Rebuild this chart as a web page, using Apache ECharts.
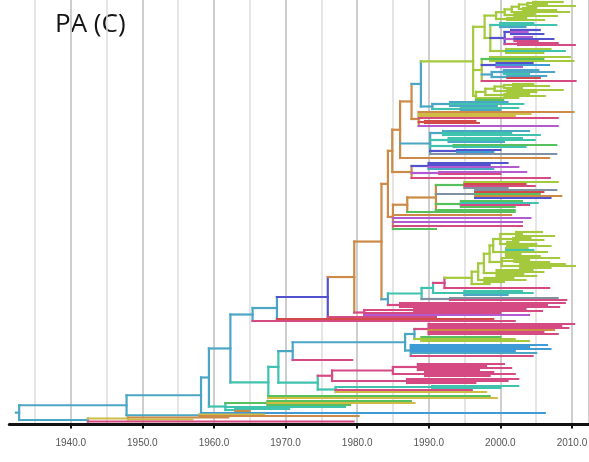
<!DOCTYPE html>
<html>
<head>
<meta charset="utf-8">
<title>PA (C)</title>
<script src="https://cdn.jsdelivr.net/npm/echarts@6.0.0/dist/echarts.min.js"></script>
<style>
  html, body { margin: 0; padding: 0; background: #ffffff; }
  #chart { width: 589px; height: 462px; }
</style>
</head>
<body>
<div id="chart"></div>
<script>
// ---- Time-scaled phylogeny of the PA segment, clade C ----
// Tree notation: a tip is "row:yearC", an internal node is "(children)yearC",
// where year is the node date and C the one-letter lineage colour code.
// Internal node rows are placed at the midpoint of their outer children.

const panelTitle = 'PA (C)';
const axisYears = [1940, 1950, 1960, 1970, 1980, 1990, 2000, 2010];
const rootStemStart = 1932.35;

// lineage colour codes
const lineageCodes  = ['a', 't', 'g', 'G', 'o', 'm', 'p', 'b', 'y', 'r', 's', 'l'];
const lineageColors = ['#4ba6c6', '#3fc2ae', '#a5c93c', '#56c05c', '#cd8a47', '#d64a83',
                       '#b35ad0', '#5252cf', '#d0bb45', '#d34a4a', '#7f90a3', '#3f9bd6'];

// top lime lineage
const limeTop = '((((((2:2008.7g,4:2006.5g)2004.6g,6:2010.4g)2003.8g,(8:2005.0g,10:2007.8g)2003.2g)2002.6g,12:2009.6g)2001.6g,(14:2004.8g,16:2007.9g)2002.0g)2000.6g,(18:2003.6g,20:2006.1g)2001.0g)1999.4g';
const mixedTop = '((23:2004.6t,25:2007.8t,27:2003.5a)2000.0t,((30:2005.5b,32:2003.8p,34:2006.0b)2001.5b,(37:2004.4p,39:2007.4b,41:2005.2m)2002.0p,(43:2008.0m,45:2010.4m)2002.5m)2000.6b,(49:2007.0g,51:2009.0t,53:2006.0g)2000.8g)1998.6g';
const mixedUpper = '((57:2009.7g,59:2006.0G,61:2010.2g)1998.6G,(63:2004.5b,65:2006.8l,67:2003.0p)1999.5b,((70:2005.3a,72:2007.5a,74:2004.0t)2000.5a,(76:2006.4a,78:2005.5r)2001.0a)1998.8a,81:2010.5m)1997.4g';
const limeSecond = '(((((84:2004.6g,86:2006.8g)2001.8g,88:2003.0g)2000.5g,(90:2008.7g,92:2005.0g)2001.0g)1999.2g,(94:2004.0g,96:2006.2g)2000.6g)1997.9g,98:2002.5g,100:2000.4G)1996.6g';
const cyanTop = '((102:2001.0a,104:2003.2t,106:1999.5a)1993.0a,(108:2002.5t,110:2000.0a)1994.5t)1990.5a';
const orangeTips = '(112:2010.2o,114:2004.2y,116:2002.0y,118:2008.0m,(121:1996.5r,123:1997.0r)1989.5r,126:2008.0p)1988.6o';
const turquoiseMid = '((131:2004.0a,133:2001.5t,135:2005.5t)1992.0a,(138:2003.0t,140:2004.8t,142:2000.5a)1992.8t,(145:2007.8G,147:2003.5t)1993.5t,(150:2000.0b,152:1999.0l)1994.0b,154:2007.8s)1990.2a';
const blueMid = '((163:2001.0b,165:1998.5b,167:2002.5p,169:1999.0a)1990.0b,(172:2003.6p,174:2000.0m)1991.5p,178:2006.9m)1987.6o';
const colourfulMid = '((182:2008.0g,184:2003.5r,186:2004.8m,188:2001.0s)1995.0G,(190:2007.8s,192:2006.0r,194:2005.5G,196:2008.5o,198:2007.0b)1996.5s,(201:2003.0G,203:2005.2t,205:2004.0m,207:2002.0G)1994.5G,210:2002.0G)1991.0o';
const orangeLower = '215:2001.5o,218:2004.2p,222:2003.0p,226:2003.0m,229:1991.0G';

// large lime lineage (ladder)
const limeLadder5 = '((232:2005.8g,234:2003.0g,236:2007.5g)2002.2g,(238:2004.2g,240:2006.0g)2001.8g,(242:2002.5g,244:2005.0g,246:2007.0g)2001.0g)2000.0g';
const limeLadder4 = '(248:2003.8g,250:2004.6t,252:2006.5g,254:2002.8g,256:2005.5g)2000.8g';
const limeLadder3 = '(258:2008.2g,(260:2004.0g,262:2006.8g)2002.0g,(264:2009.0g,266:2010.4g,268:2007.0g)2002.8g)2000.2g';
const limeLadder2 = '(270:2004.5g,272:2006.0g,274:2003.2g,276:2005.0g)1999.5g';
const limeLadder1 = '(278:2001.8g,280:2003.5g,282:2000.5g)1997.8g';

const tealLower = '(291:2003.0t,293:2004.5t,295:2001.0a)1995.0t';
const slateLower = '(298:2008.0s,300:2009.2m)1993.0s';
const magentaBandA = '(303:2009.0m,305:2006.5m,307:2008.2m)1986.0m';
const magentaBandB = '((309:2003.5m,311:2005.8m)1988.0m,313:2000.0m,315:2004.0p)1981.0m';

const magentaCluster = '(((324:2010.3m,326:2008.5m,328:2009.5m,330:2007.5o,332:2006.0m,334:2008.0m)1990.0m,(337:2000.0G,339:2002.0g,341:2004.0g)1989.0g)1988.0a,(345:2006.5l,347:2004.0l,349:2007.0l,351:2002.0l,353:2005.0a,356:2004.5m)1987.5a)1986.7a';
const magentaLower = '(((364:2000.5m,366:1998.0m,368:2001.5m,370:1997.0m)1988.5m,(372:1999.0m,374:2002.0m,376:1998.5m)1989.5m)1985.0m,(379:2002.5m,381:2001.0m,383:1996.5m)1987.0m)1976.5m';
const tealBottom = '((386:2002.5t,388:2000.0t)1990.5t,390:1996.0m,392:1998.0y)1977.0t';
const earlyTurquoise = '((401:1987.5G,403:1988.0y,405:1979.0G)1967.5G,407:1978.3t,(409:1970.5t,411:1965.0o)1963.0t)1961.6t';
const earlyCyan = '(414.5:1967.0y,416:1980.2o)1958.0a';
const earliest = '((417.5:1962.0o,419.5:1957.0y)1948.0y,421.5:1979.5m)1942.4a';

// ---- assemble the tree from its clades ----
const upperLime = `((${limeTop},${mixedTop})1997.8g,${mixedUpper},${limeSecond})1996.2g`;
const upperCyan = `(${upperLime},${cyanTop})1988.9a`;
const orangeTop = `((${upperCyan},${orangeTips})1987.6o,${turquoiseMid},158:2006.8o)1986.0o`;
const orangeMid = `(${orangeTop},${blueMid})1984.9o`;
const orangeLow = `((${colourfulMid},212:2002.0G)1987.0o,${orangeLower})1985.0o`;
const limeBig = `(((((${limeLadder5},${limeLadder4})1999.0g,${limeLadder3})1998.5g,${limeLadder2})1997.7g,${limeLadder1})1996.9g,284:1998.5g)1996.0g`;
const tealClade = `((((${limeBig},288:2006.8m)1992.2m,${tealLower})1990.6t,${slateLower})1989.0t,${magentaBandA})1984.3a`;
const orangeClade = `(((${orangeMid},${orangeLow})1984.3o,${tealClade})1983.4o,${magentaBandB})1979.6o`;
const upperBackbone = `(((${orangeClade},317:1991.0m)1975.9b,319:1999.0r)1968.8a,321:2002.0m)1965.4a`;
const lowerTurquoise = `(((${magentaCluster},360:1979.3m)1971.0a,(${magentaLower},${tealBottom})1974.5t)1969.0t,396:1998.5G,398:1999.5y)1967.6t`;
const treeSource = `(((((${upperBackbone},${lowerTurquoise})1962.3a,${earlyTurquoise})1959.3a,413:2006.2l)1958.2a,${earlyCyan})1947.8a,${earliest})1932.8a`;

// ---- parse the notation ----
function parseTree(src) {
  const s = src.replace(/\s+/g, '');
  let i = 0;
  const readNumber = () => {
    const start = i;
    while (i < s.length && /[0-9.]/.test(s[i])) i++;
    return parseFloat(s.slice(start, i));
  };
  function readNode() {
    const node = { children: [] };
    if (s[i] === '(') {
      i++;
      for (;;) {
        node.children.push(readNode());
        const c = s[i++];
        if (c === ')') break;
      }
    } else {
      node.row = readNumber();
      i++; // ':'
    }
    node.date = readNumber();
    node.code = s[i++];
    return node;
  }
  return readNode();
}

function placeRows(node) {
  if (node.children.length) {
    node.children.forEach(placeRows);
    const first = node.children[0].row;
    const last = node.children[node.children.length - 1].row;
    node.row = (first + last) / 2;
  }
}

// branch segments: [x1, row1, x2, row2, colourIndex]
function collectBranches(node, parentDate, out) {
  const ci = lineageCodes.indexOf(node.code);
  out.push([parentDate, node.row, node.date, node.row, ci]);
  if (node.children.length) {
    const rows = node.children.map(c => c.row);
    out.push([node.date, Math.min.apply(null, rows), node.date, Math.max.apply(null, rows), ci]);
    node.children.forEach(c => collectBranches(c, node.date, out));
  }
  return out;
}

const root = parseTree(treeSource);
placeRows(root);
const branches = collectBranches(root, rootStemStart, []);

// ---- chart ----
const chart = echarts.init(document.getElementById('chart'), null, { renderer: 'canvas' });
const xMin = 1930, xMax = 2012.38, axisStart = 1931.42, rowMax = 424.5;

chart.setOption({
  animation: false,
  backgroundColor: '#ffffff',
  graphic: [{
    type: 'text',
    left: 55,
    top: 12,
    style: { text: panelTitle, font: '26px "Open Sans"', fill: '#141414' }
  }],
  grid: [
    { left: -0.9, right: 0, top: 0, bottom: 37.5, containLabel: false, outerBoundsMode: 'none' },
    { left: 9.3, right: 0, top: 0, bottom: 37.5, containLabel: false, outerBoundsMode: 'none' }
  ],
  xAxis: [
    { // half-decade grid lines
      type: 'value', gridIndex: 0, min: xMin, max: xMax, interval: 5, position: 'bottom',
      axisLine: { show: false }, axisTick: { show: false }, axisLabel: { show: false },
      splitLine: { show: true, lineStyle: { color: '#dcdcdc', width: 1.5 } }
    },
    { // decade grid lines
      type: 'value', gridIndex: 0, min: xMin, max: xMax, interval: 10, position: 'top',
      axisLine: { show: false }, axisTick: { show: false }, axisLabel: { show: false },
      splitLine: { show: true, lineStyle: { color: '#c6c6c6', width: 1.5 } }
    },
    { // visible time axis
      type: 'value', gridIndex: 1, min: axisStart, max: xMax, position: 'bottom',
      splitLine: { show: false },
      axisLine: { show: true, lineStyle: { color: '#111111', width: 3 } },
      axisTick: { show: true, customValues: axisYears, length: 4, lineStyle: { color: '#111111', width: 2 } },
      axisLabel: {
        show: true, customValues: axisYears, margin: 14,
        fontSize: 10, fontFamily: '"Liberation Sans", Arial, sans-serif', color: '#555555',
        formatter: v => Number(v).toFixed(1)
      }
    }
  ],
  yAxis: [
    { type: 'value', gridIndex: 0, min: 0, max: rowMax, inverse: true, show: false },
    { type: 'value', gridIndex: 1, min: 0, max: 1, show: false }
  ],
  series: [{
    type: 'custom',
    xAxisIndex: 0,
    yAxisIndex: 0,
    data: branches,
    dimensions: ['x1', 'row1', 'x2', 'row2', 'lineage'],
    encode: { x: [0, 2], y: [1, 3] },
    renderItem: function (params, api) {
      const p1 = api.coord([api.value(0), api.value(1)]);
      const p2 = api.coord([api.value(2), api.value(3)]);
      return {
        type: 'line',
        shape: { x1: p1[0], y1: p1[1], x2: p2[0], y2: p2[1] },
        style: { stroke: lineageColors[api.value(4)], lineWidth: 2.2, lineCap: 'square' }
      };
    }
  }]
});
</script>
</body>
</html>
